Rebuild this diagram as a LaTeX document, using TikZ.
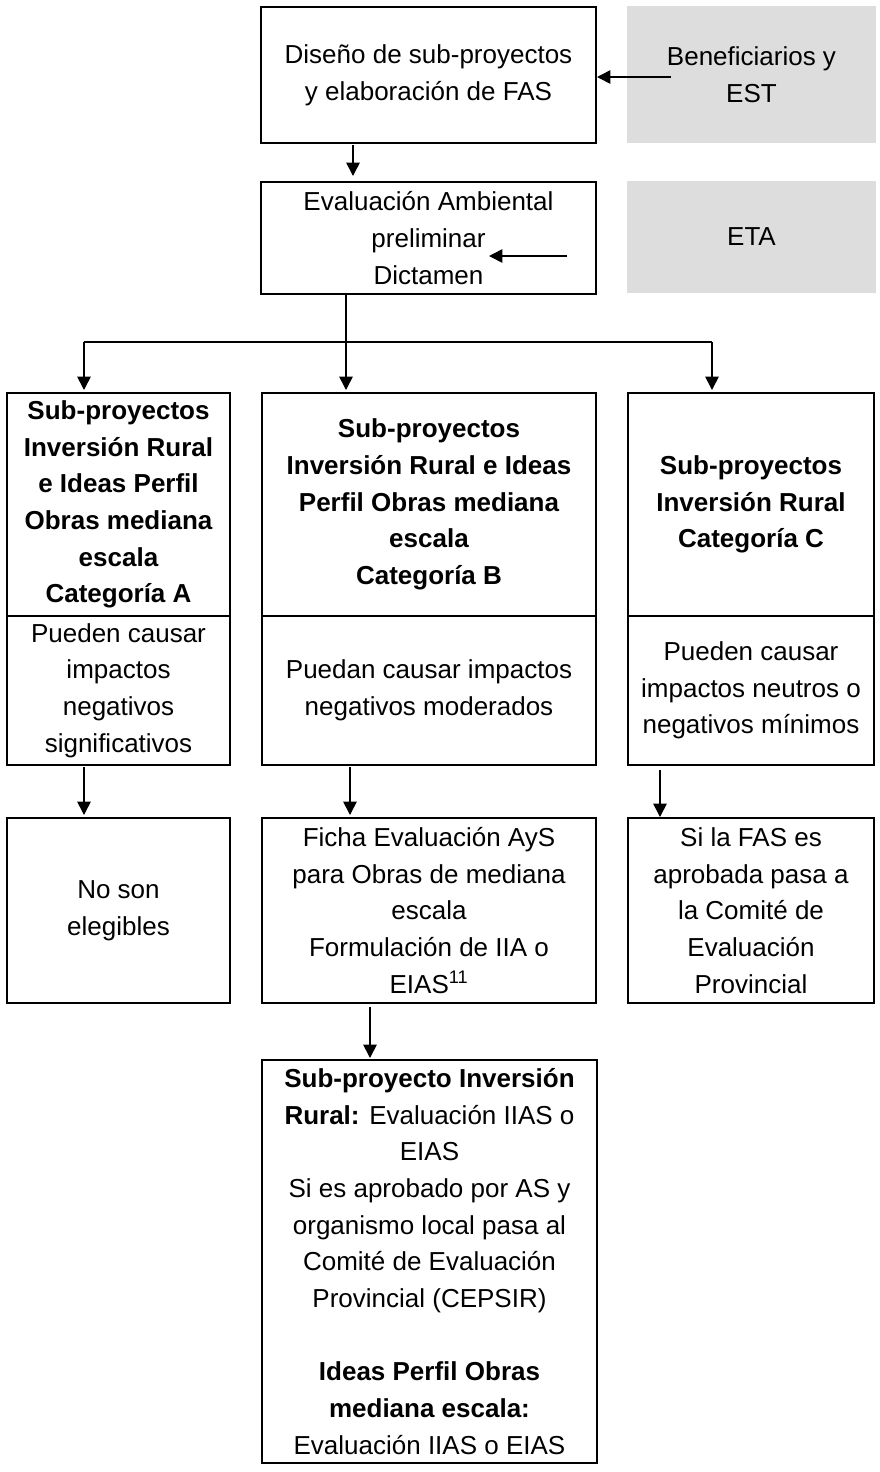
\documentclass[tikz,border=0pt]{standalone}
\usepackage{fontspec}
\setmainfont{Liberation Sans}
\usetikzlibrary{arrows.meta,calc}
\definecolor{greybox}{RGB}{221,221,221}
\begin{document}
\begin{tikzpicture}[x=0.75pt,y=-0.75pt,
  txt/.style={font=\fontsize{19.5}{27.5}\selectfont,align=center,inner sep=0pt,outer sep=0pt},
  box/.style={txt,draw=black,line width=1.5pt,fill=white},
  greyb/.style={txt,fill=greybox,draw=none},
  ln/.style={line width=1.2pt},
  arr/.style={ln,-{Triangle[length=10pt,width=10pt]}}]
\useasboundingbox (0,0) rectangle (879,1472);
% top row
\node[box,minimum width=251.25pt,minimum height=102pt] (diseno) at (428.5,75) {Diseño de sub-proyectos\\y elaboración de FAS};
\node[greyb,minimum width=186.75pt,minimum height=102.75pt] (benef) at (751.5,74.5) {Beneficiarios y\\EST};
\node[box,minimum width=251.25pt,minimum height=84pt] (evalamb) at (428.5,238) {Evaluación Ambiental\\preliminar\\Dictamen};
\node[greyb,minimum width=186.75pt,minimum height=84pt] (eta) at (751.5,237) {ETA};
% category headers
\node[box,minimum width=167.25pt,minimum height=167.25pt] (hA) at (118.5,504.5) {\bfseries Sub-proyectos\\\bfseries Inversión Rural\\\bfseries e Ideas Perfil\\\bfseries Obras mediana\\\bfseries escala\\\bfseries Categoría A};
\node[box,minimum width=250.5pt,minimum height=167.25pt] (hB) at (429,504.5) {\bfseries Sub-proyectos\\\bfseries Inversión Rural e Ideas\\\bfseries Perfil Obras mediana\\\bfseries escala\\\bfseries Categoría B};
\node[box,minimum width=184.5pt,minimum height=167.25pt] (hC) at (751,504.5) {\bfseries Sub-proyectos\\\bfseries Inversión Rural\\\bfseries Categoría C};
% impacts
\node[box,minimum width=167.25pt,minimum height=111.75pt] (lA) at (118.5,690.5) {Pueden causar\\impactos\\negativos\\significativos};
\node[box,minimum width=250.5pt,minimum height=111.75pt] (lB) at (429,690.5) {Puedan causar impactos\\negativos moderados};
\node[box,minimum width=184.5pt,minimum height=111.75pt] (lC) at (751,690.5) {Pueden causar\\impactos neutros o\\negativos mínimos};
% second row
\node[box,minimum width=167.25pt,minimum height=138.75pt] (rA) at (118.5,910.5) {No son\\elegibles};
\node[box,minimum width=250.5pt,minimum height=138.75pt] (rB) at (429,910.5) {Ficha Evaluación AyS\\para Obras de mediana\\escala\\Formulación de IIA o\\EIAS\textsuperscript{11}};
\node[box,minimum width=184.5pt,minimum height=138.75pt] (rC) at (751,910.5) {Si la FAS es\\aprobada pasa a\\la Comité de\\Evaluación\\Provincial};
% bottom
\node[box,minimum width=251.25pt,minimum height=302.25pt] (bot) at (429.5,1261.5) {\textbf{Sub-proyecto Inversión}\\\textbf{Rural:} Evaluación IIAS o\\EIAS\\Si es aprobado por AS y\\organismo local pasa al\\Comité de Evaluación\\Provincial (CEPSIR)\\[27.5pt]\textbf{Ideas Perfil Obras}\\\textbf{mediana escala:}\\Evaluación IIAS o EIAS};
% connectors
\draw[arr] ($(benef.west)+(44,2.5)$) -- ($(diseno.east)+(1,2)$);
\draw[arr] ($(diseno.south)+(-75.5,2)$) -- ($(evalamb.north)+(-75.5,-6)$);
\draw[arr] ($(eta.west)+(-60,19)$) -- ($(evalamb.center)+(60.5,18)$);
\coordinate (jA) at (84,342);
\coordinate (jC) at (712,342);
\draw[ln] (jA) -- (jC);
\draw[arr] ($(evalamb.south)+(-82.5,0)$) -- ($(hB.north)+(-83,-3)$);
\draw[arr] (jA) -- ($(hA.north -| jA)+(0,-3)$);
\draw[arr] (jC) -- ($(hC.north -| jC)+(0,-3)$);
\draw[arr] ($(lA.south)+(-34.5,2)$) -- ($(rA.north)+(-34.5,-3)$);
\draw[arr] ($(lB.south)+(-79,2)$) -- ($(rB.north)+(-79,-3)$);
\draw[arr] ($(lC.south)+(-91,5)$) -- ($(rC.north)+(-91,-1)$);
\draw[arr] ($(rB.south)+(-59,4)$) -- ($(bot.north)+(-59.5,-2)$);
\end{tikzpicture}
\end{document}
